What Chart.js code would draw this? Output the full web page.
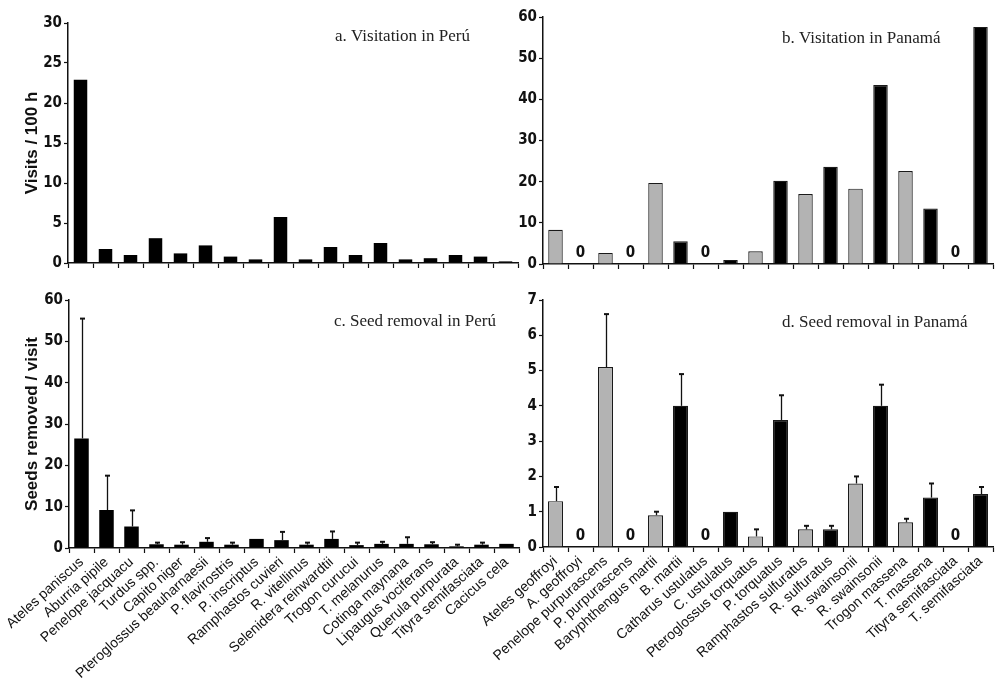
<!DOCTYPE html>
<html><head><meta charset="utf-8">
<script src="https://cdn.jsdelivr.net/npm/chart.js@4.4.1/dist/chart.umd.min.js"></script>
<style>
html,body{margin:0;padding:0;background:#fff;}
#wrap{position:relative;width:1002px;height:698px;overflow:hidden;background:#fff;}
canvas{position:absolute;}
</style></head><body>
<div id="wrap">
<canvas id="ca" width="525" height="290" style="left:0;top:0"></canvas>
<canvas id="cb" width="532" height="290" style="left:470px;top:0"></canvas>
<canvas id="cc" width="525" height="413" style="left:0;top:285px"></canvas>
<canvas id="cd" width="532" height="413" style="left:470px;top:285px"></canvas>
</div>
<script>
// ---------- DATA ----------
const peruSpecies = ['Ateles paniscus','Aburria pipile','Penelope jacquacu','Turdus spp.','Capito niger','Pteroglossus beauharnaesii','P. flavirostris','P. inscriptus','Ramphastos cuvieri','R. vitellinus','Selenidera reinwardtii','Trogon curucui','T. melanurus','Cotinga maynana','Lipaugus vociferans','Querula purpurata','Tityra semifasciata','Cacicus cela'];
const peruVisits = [22.9, 1.75, 1.0, 3.1, 1.2, 2.2, 0.8, 0.45, 5.75, 0.45, 2.0, 1.0, 2.5, 0.45, 0.6, 1.0, 0.8, 0.2];
const peruSeeds = [26.5, 9.2, 5.2, 0.9, 0.8, 1.5, 0.8, 2.2, 1.9, 0.8, 2.2, 0.7, 1.0, 1.0, 0.9, 0.4, 0.8, 1.0];
const peruSeedsUpper = [55.5, 17.5, 9.1, 1.3, 1.4, 2.4, 1.3, null, 3.9, 1.3, 4.0, 1.3, 1.5, 2.6, 1.4, 0.8, 1.3, null];

const panamaSpecies = ['Ateles geoffroyi','A. geoffroyi','Penelope purpurascens','P. purpurascens','Baryphthengus martii','B. martii','Catharus ustulatus','C. ustulatus','Pteroglossus torquatus','P. torquatus','Ramphastos sulfuratus','R. sulfuratus','R. swainsonii','R. swainsonii','Trogon massena','T. massena','Tityra semifasciata','T. semifasciata'];
const panamaGroup = [1,2,1,2,1,2,1,2,1,2,1,2,1,2,1,2,1,2];
const panamaVisits = [8.3, 0, 2.7, 0, 19.7, 5.5, 0, 1.0, 3.1, 20.2, 17.0, 23.6, 18.3, 43.5, 22.6, 13.5, 0, 57.6];
const panamaSeeds = [1.3, 0, 5.1, 0, 0.9, 4.0, 0, 1.0, 0.3, 3.6, 0.5, 0.5, 1.8, 4.0, 0.7, 1.4, 0, 1.5];
const panamaSeedsUpper = [1.7, null, 6.6, null, 1.0, 4.9, null, null, 0.5, 4.3, 0.6, 0.6, 2.0, 4.6, 0.8, 1.8, null, 1.7];

const peruVisitTicks = [0, 5, 10, 15, 20, 25, 30];
const panamaVisitTicks = [0, 10, 20, 30, 40, 50, 60];
const peruSeedTicks = [0, 10, 20, 30, 40, 50, 60];
const panamaSeedTicks = [0, 1, 2, 3, 4, 5, 6, 7];

const panelTitles = ['a. Visitation in Perú', 'b. Visitation in Panamá', 'c. Seed removal in Perú', 'd. Seed removal in Panamá'];
const yTitles = ['Visits / 100 h', 'Seeds removed / visit'];

// ---------- STYLE / PLUGINS ----------
const NARROW = '"Liberation Sans Narrow", "Arial Narrow", "DejaVu Sans Condensed", sans-serif';
const SANS = '"Liberation Sans", Arial, sans-serif';
const SERIF = '"Liberation Serif", "Times New Roman", serif';
const groupColor = g => g === 1 ? '#b3b3b3' : '#000000';

const errorBarPlugin = {
  id: 'errorBars',
  afterDatasetsDraw(chart) {
    const ds = chart.data.datasets[0];
    if (!ds.upper) return;
    const meta = chart.getDatasetMeta(0);
    const ys = chart.scales.y;
    const ctx = chart.ctx;
    ctx.save();
    ctx.strokeStyle = '#111';
    meta.data.forEach((bar, i) => {
      const u = ds.upper[i];
      if (u == null) return;
      const x = Math.round(bar.x) + 0.5;
      const y1 = ys.getPixelForValue(u);
      ctx.lineWidth = 1.3;
      ctx.beginPath(); ctx.moveTo(x, bar.y); ctx.lineTo(x, y1); ctx.stroke();
      ctx.lineWidth = 2;
      ctx.beginPath(); ctx.moveTo(x - 2.5, y1); ctx.lineTo(x + 2.5, y1); ctx.stroke();
    });
    ctx.restore();
  }
};

const panelTitlePlugin = {
  id: 'panelTitle',
  afterDraw(chart, args, opts) {
    if (!opts || !opts.text) return;
    const ctx = chart.ctx;
    ctx.save();
    ctx.font = '17px ' + SERIF;
    ctx.fillStyle = '#222';
    ctx.textAlign = 'left';
    ctx.textBaseline = 'middle';
    ctx.fillText(opts.text, opts.x, opts.y);
    ctx.restore();
  }
};

const zeroMarkPlugin = {
  id: 'zeroMarks',
  afterDatasetsDraw(chart, args, opts) {
    if (!opts || !opts.enabled) return;
    const ds = chart.data.datasets[0];
    const meta = chart.getDatasetMeta(0);
    const ys = chart.scales.y;
    const ctx = chart.ctx;
    ctx.save();
    ctx.font = 'bold 15px ' + NARROW;
    ctx.fillStyle = '#111';
    ctx.textAlign = 'center';
    ctx.textBaseline = 'middle';
    meta.data.forEach((bar, i) => {
      if (ds.data[i] === 0) ctx.fillText('0', bar.x, ys.getPixelForValue(0) - 11);
    });
    ctx.restore();
  }
};

function makeChart(id, c) {
  return new Chart(document.getElementById(id), {
    type: 'bar',
    data: {
      labels: c.labels,
      datasets: [{
        data: c.values,
        upper: c.upper,
        backgroundColor: c.colors,
        borderColor: '#1a1a1a',
        borderWidth: c.border,
        borderSkipped: 'start',
        barPercentage: c.barPct,
        categoryPercentage: 1
      }]
    },
    options: {
      responsive: false,
      animation: false,
      devicePixelRatio: 1,
      layout: { padding: c.padding },
      plugins: {
        legend: { display: false },
        tooltip: { enabled: false },
        panelTitle: c.title,
        zeroMarks: { enabled: !!c.zeroMarks }
      },
      scales: {
        x: {
          offset: true,
          grid: { display: true, offset: true, drawOnChartArea: false, drawTicks: true, tickLength: 5, tickColor: '#111', tickWidth: 1.2 },
          border: { display: true, color: '#111', width: 1.5 },
          ticks: {
            display: c.showLabels, autoSkip: false, minRotation: 42, maxRotation: 42, padding: 1,
            color: '#111', font: { family: SANS, size: 14 }
          },
          afterFit: s => { s.height = c.xHeight; }
        },
        y: {
          min: c.yTicks[0],
          max: c.yTicks[c.yTicks.length - 1],
          afterBuildTicks: s => { s.ticks = c.yTicks.map(v => ({ value: v })); },
          grid: { display: true, drawOnChartArea: false, drawTicks: true, tickLength: 4, tickColor: '#111', tickWidth: 1.2 },
          border: { display: true, color: '#111', width: 1.5 },
          ticks: { padding: 2, color: '#111', font: { family: NARROW, size: 15, weight: 'bold' } },
          title: c.yTitle ? {
            display: true, text: c.yTitle, color: '#111',
            font: { family: SANS, size: 17, weight: 'bold' },
            padding: { top: 22, bottom: 0 }
          } : { display: false },
          afterFit: s => { s.width = c.yWidth; }
        }
      }
    },
    plugins: [errorBarPlugin, panelTitlePlugin, zeroMarkPlugin]
  });
}

// a. Visitation in Peru
makeChart('ca', {
  labels: peruSpecies, values: peruVisits, upper: null,
  colors: peruSpecies.map(() => '#000'), border: 0, barPct: 0.54,
  yTicks: peruVisitTicks, yTitle: yTitles[0], yWidth: 68, xHeight: 27,
  padding: { top: 23, right: 7, left: 0, bottom: 0 }, showLabels: false,
  title: { text: panelTitles[0], x: 335, y: 37 }
});
// b. Visitation in Panama
makeChart('cb', {
  labels: panamaSpecies, values: panamaVisits, upper: null,
  colors: panamaGroup.map(groupColor), border: 1.2, barPct: 0.58,
  yTicks: panamaVisitTicks, yTitle: null, yWidth: 73, xHeight: 26,
  padding: { top: 17, right: 9, left: 0, bottom: 0 }, showLabels: false,
  title: { text: panelTitles[1], x: 312, y: 39 }, zeroMarks: true
});
// c. Seed removal in Peru
makeChart('cc', {
  labels: peruSpecies, values: peruSeeds, upper: peruSeedsUpper,
  colors: peruSpecies.map(() => '#000'), border: 0, barPct: 0.58,
  yTicks: peruSeedTicks, yTitle: yTitles[1], yWidth: 69, xHeight: 150,
  padding: { top: 15, right: 6, left: 0, bottom: 0 }, showLabels: true,
  title: { text: panelTitles[2], x: 334, y: 37 }
});
// d. Seed removal in Panama
makeChart('cd', {
  labels: panamaSpecies, values: panamaSeeds, upper: panamaSeedsUpper,
  colors: panamaGroup.map(groupColor), border: 1.2, barPct: 0.6,
  yTicks: panamaSeedTicks, yTitle: null, yWidth: 73, xHeight: 151,
  padding: { top: 15, right: 9, left: 0, bottom: 0 }, showLabels: true,
  title: { text: panelTitles[3], x: 312, y: 38 }, zeroMarks: true
});
</script>
</body></html>
